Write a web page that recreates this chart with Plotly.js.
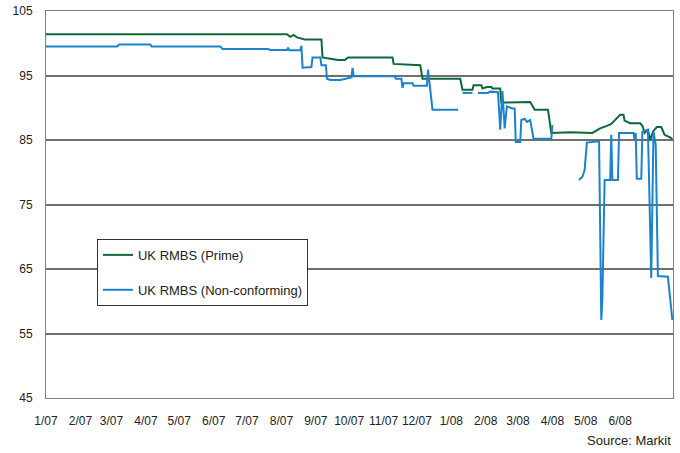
<!DOCTYPE html>
<html>
<head>
<meta charset="utf-8">
<script src="https://cdn.plot.ly/plotly-3.0.1.min.js"></script>
<style>html,body{margin:0;padding:0;background:#fff;}#chart{width:680px;height:453px;}</style>
</head>
<body>
<div id="chart"></div>
<script>
// UK RMBS (Prime)
const primeDates = ["2007-01-01","2007-08-06","2007-08-09","2007-08-12","2007-08-15","2007-08-22","2007-09-06","2007-09-07","2007-09-14","2007-09-21","2007-09-27","2007-09-30","2007-11-09","2007-11-10","2007-12-04","2007-12-06","2008-01-09","2008-01-11","2008-01-20","2008-01-21","2008-01-28","2008-01-29","2008-02-02","2008-02-06","2008-02-07","2008-02-14","2008-02-15","2008-02-29","2008-03-01","2008-03-12","2008-03-16","2008-03-28","2008-03-31","2008-04-17","2008-05-07","2008-05-14","2008-05-20","2008-05-24","2008-05-28","2008-06-01","2008-06-04","2008-06-05","2008-06-10","2008-06-19","2008-06-21","2008-06-23","2008-06-26","2008-06-28","2008-06-30","2008-07-01","2008-07-04","2008-07-08","2008-07-11","2008-07-16","2008-07-18"];
const primeValues = [101.4,101.4,101.0,101.3,100.9,100.6,100.6,97.8,97.6,97.4,97.4,97.8,97.8,96.8,96.6,94.5,94.5,92.8,92.8,93.5,93.5,93.0,93.2,93.2,93.0,93.0,90.8,90.8,90.9,90.9,89.7,89.7,86.1,86.2,86.1,86.8,87.2,87.5,88.2,88.9,88.9,88.0,87.6,87.6,87.2,86.1,86.6,85.0,86.0,86.4,87.0,87.0,85.8,85.4,85.1];

// UK RMBS (Non-conforming) — null marks a gap in the series
const ncDates = ["2007-01-01","2007-03-06","2007-03-08","2007-04-05","2007-04-06","2007-06-07","2007-06-09","2007-07-20","2007-07-22","2007-08-06","2007-08-07","2007-08-08","2007-08-18","2007-08-19","2007-08-20","2007-08-28","2007-08-29","2007-09-05","2007-09-06","2007-09-10","2007-09-11","2007-09-14","2007-09-23","2007-09-27","2007-10-03","2007-10-04","2007-10-05","2007-11-11","2007-11-12","2007-11-17","2007-11-18","2007-11-19","2007-11-27","2007-11-28","2007-12-10","2007-12-11","2007-12-15","2008-01-07","2008-01-09","2008-01-11","2008-01-20","2008-01-22","2008-01-25","2008-02-03","2008-02-05","2008-02-12","2008-02-14","2008-02-16","2008-02-18","2008-02-20","2008-02-25","2008-02-27","2008-02-28","2008-03-03","2008-03-04","2008-03-07","2008-03-09","2008-03-12","2008-03-15","2008-03-31","2008-04-01","2008-04-03","2008-04-25","2008-04-28","2008-04-30","2008-05-02","2008-05-13","2008-05-15","2008-05-16","2008-05-18","2008-05-23","2008-05-24","2008-05-25","2008-05-30","2008-05-31","2008-06-13","2008-06-14","2008-06-15","2008-06-16","2008-06-20","2008-06-21","2008-06-26","2008-06-29","2008-07-01","2008-07-03","2008-07-05","2008-07-14","2008-07-18"];
const ncValues = [99.5,99.5,99.8,99.8,99.5,99.5,99.1,99.1,98.95,98.95,99.3,98.9,98.95,99.6,96.2,96.3,97.8,97.8,96.6,96.6,94.5,94.3,94.3,94.5,94.7,96.2,94.9,94.9,94.5,94.5,93.1,93.8,93.8,93.4,93.4,95.9,89.7,89.7,null,92.3,92.3,null,92.3,92.3,92.5,92.4,86.6,92.6,86.8,90.2,89.9,89.9,84.7,84.7,88.1,88.3,87.8,88.1,85.2,85.2,87.3,null,78.8,79.3,80.3,84.6,84.8,57.1,60.5,78.8,78.8,85.8,78.8,78.8,86.1,86.1,85.1,86.1,79.0,79.0,86.3,86.6,63.6,86.3,84.3,63.9,63.8,57.1];

const seriesNames = ["UK RMBS (Prime)", "UK RMBS (Non-conforming)"];
const yTicks = [45, 55, 65, 75, 85, 95, 105];
const xTickDates = ["2007-01-01","2007-02-01","2007-03-01","2007-04-01","2007-05-01","2007-06-01","2007-07-01","2007-08-01","2007-09-01","2007-10-01","2007-11-01","2007-12-01","2008-01-01","2008-02-01","2008-03-01","2008-04-01","2008-05-01","2008-06-01"];
const xTickLabels = ["1/07","2/07","3/07","4/07","5/07","6/07","7/07","8/07","9/07","10/07","11/07","12/07","1/08","2/08","3/08","4/08","5/08","6/08"];
const xRange = ["2007-01-01", "2008-07-18 14:00"];

const FONT = "Arial, 'Liberation Sans', sans-serif";

const traces = [
  {x: primeDates, y: primeValues, name: seriesNames[0], type: "scatter", mode: "lines",
   line: {color: "#10683a", width: 2, shape: "linear"}, legendgroup: "a", connectgaps: false, hoverinfo: "skip"},
  {x: ncDates, y: ncValues, name: seriesNames[1], type: "scatter", mode: "lines",
   line: {color: "#1a83cc", width: 2, shape: "linear"}, legendgroup: "b", connectgaps: false, hoverinfo: "skip"}
];

const layout = {
  width: 680, height: 453,
  margin: {l: 46, r: 7, t: 11, b: 55, pad: 0},
  paper_bgcolor: "#ffffff", plot_bgcolor: "#ffffff",
  font: {family: FONT, size: 12, color: "#222222"},
  showlegend: true,
  legend: {
    x: 0.0813, y: 0.411, xanchor: "left", yanchor: "top",
    bgcolor: "#ffffff", bordercolor: "#333333", borderwidth: 1,
    font: {family: FONT, size: 13, color: "#222222"},
    traceorder: "grouped", tracegroupgap: 15,
    itemwidth: 30,
    entrywidth: 214, entrywidthmode: "pixels"
  },
  xaxis: {
    type: "date",
    range: xRange,
    tickmode: "array", tickvals: xTickDates, ticktext: xTickLabels,
    tickangle: 0,
    showgrid: false, zeroline: false,
    showline: true, linecolor: "#808080", linewidth: 1, mirror: true,
    ticks: "", ticklabelstandoff: 12,
    tickfont: {family: FONT, size: 12, color: "#222222"},
    fixedrange: true
  },
  yaxis: {
    range: [45, 105],
    tickmode: "array", tickvals: yTicks, ticktext: yTicks.map(String),
    showgrid: true, gridcolor: "#707070", gridwidth: 2,
    zeroline: false,
    showline: true, linecolor: "#808080", linewidth: 1, mirror: true,
    ticks: "", ticklabelstandoff: 10,
    tickfont: {family: FONT, size: 12, color: "#222222"},
    fixedrange: true
  },
  annotations: [
    {text: "Source: Markit", xref: "paper", yref: "paper", x: 1, y: -0.109,
     xanchor: "right", yanchor: "middle", showarrow: false,
     font: {family: FONT, size: 13, color: "#222222"}}
  ]
};

Plotly.newPlot("chart", traces, layout, {staticPlot: true, displayModeBar: false});
</script>
</body>
</html>
